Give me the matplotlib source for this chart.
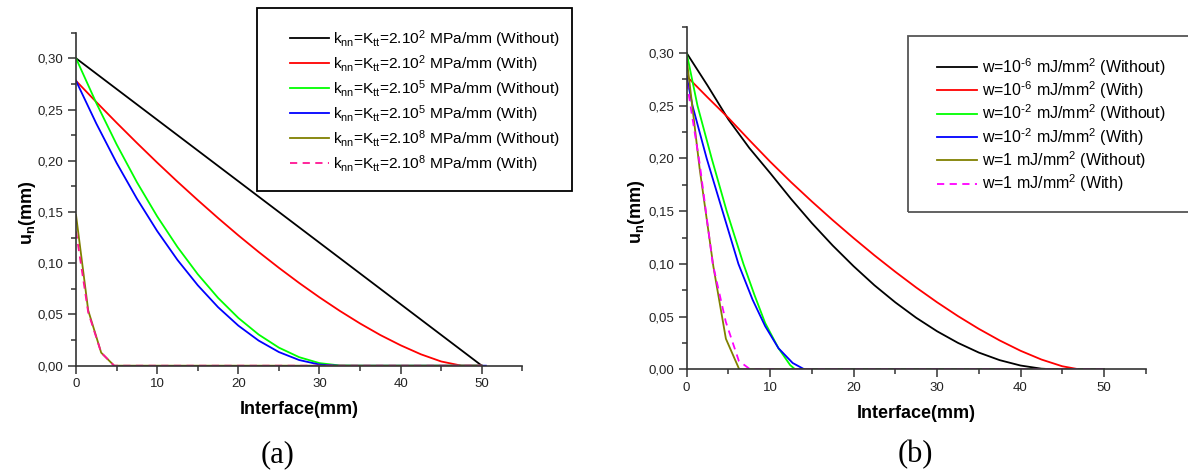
# normal displacement u_n along the interface, (a) stiffness, (b) adhesion energy

import matplotlib
matplotlib.use('Agg')
import matplotlib.pyplot as plt
from matplotlib.patches import Rectangle
from matplotlib.ticker import FuncFormatter, MultipleLocator

# ---- data (a) ----
a_black_x = [0, 50]
a_black_y = [0.300, 0.0]

a_red_x = [0, 2.5, 5, 7.5, 10, 12.5, 15, 17.5, 20, 22.5, 25, 27.5, 30, 32.5, 35, 37.5, 40, 42.5, 45, 47.5, 50]
a_red_y = [0.278, 0.2573, 0.2371, 0.2174, 0.1982, 0.1796, 0.1616, 0.1441, 0.1272, 0.1110, 0.0955,
           0.0807, 0.0667, 0.0535, 0.0412, 0.0299, 0.0199, 0.0111, 0.0041, 0.0, 0.0]

a_green_x = [0, 2.5, 5, 7.5, 10, 12.5, 15, 17.5, 20, 22.5, 25, 27.5, 30, 32.5, 35, 50]
a_green_y = [0.300, 0.2563, 0.2160, 0.1791, 0.1457, 0.1158, 0.0893, 0.0662, 0.0466, 0.0304, 0.0176,
             0.0083, 0.0025, 0.0002, 0.0, 0.0]

a_blue_x = [0, 2.5, 5, 7.5, 10, 12.5, 15, 17.5, 20, 22.5, 25, 27.5, 30, 32.5, 50.5]
a_blue_y = [0.278, 0.2363, 0.1979, 0.1630, 0.1314, 0.1032, 0.0785, 0.0571, 0.0391, 0.0245, 0.0133,
            0.0055, 0.0011, 0.0, 0.0]

a_olive_x = [0, 1.5, 3.1, 4.7, 50]
a_olive_y = [0.147, 0.054, 0.0127, 0.0, 0.0]

a_pink_x = [0, 1.5, 3.1, 4.7, 50]
a_pink_y = [0.131, 0.052, 0.0127, 0.0, 0.0]

a_labels = [
    r'k$_\mathregular{nn}$=K$_\mathregular{tt}$=2.10$^\mathregular{2}$ MPa/mm (Without)',
    r'k$_\mathregular{nn}$=K$_\mathregular{tt}$=2.10$^\mathregular{2}$ MPa/mm (With)',
    r'k$_\mathregular{nn}$=K$_\mathregular{tt}$=2.10$^\mathregular{5}$ MPa/mm (Without)',
    r'k$_\mathregular{nn}$=K$_\mathregular{tt}$=2.10$^\mathregular{5}$ MPa/mm (With)',
    r'k$_\mathregular{nn}$=K$_\mathregular{tt}$=2.10$^\mathregular{8}$ MPa/mm (Without)',
    r'k$_\mathregular{nn}$=K$_\mathregular{tt}$=2.10$^\mathregular{8}$ MPa/mm (With)',
]

# ---- data (b) ----
b_black_x = [0, 2.5, 5, 7.5, 10, 12.5, 15, 17.5, 20, 22.5, 25, 27.5, 30, 32.5, 35, 37.5, 40, 42.5, 44, 50]
b_black_y = [0.300, 0.2692, 0.2370, 0.2100, 0.1862, 0.1617, 0.1387, 0.1174, 0.0978, 0.0797, 0.0635,
             0.0489, 0.0361, 0.0251, 0.0159, 0.0087, 0.0036, 0.0006, 0.0, 0.0]

b_red_x = [0, 2.5, 5, 7.5, 10, 12.5, 15, 17.5, 20, 22.5, 25, 27.5, 30, 32.5, 35, 37.5, 40, 42.5, 45, 47, 50]
b_red_y = [0.278, 0.2580, 0.2385, 0.2175, 0.1970, 0.1776, 0.1592, 0.1415, 0.1245, 0.1081, 0.0925,
           0.0776, 0.0636, 0.0505, 0.0384, 0.0274, 0.0176, 0.0093, 0.0029, 0.0, 0.0]

b_green_x = [0, 1.3, 3.0, 4.8, 6.8, 8.1, 9.4, 11.0, 12.4, 13.0, 50]
b_green_y = [0.300, 0.250, 0.200, 0.150, 0.100, 0.071, 0.044, 0.020, 0.004, 0.0, 0.0]

b_blue_x = [0, 0.7, 2.4, 4.3, 6.2, 7.9, 9.4, 11.0, 12.7, 14.1, 50]
b_blue_y = [0.278, 0.250, 0.200, 0.150, 0.100, 0.066, 0.041, 0.020, 0.006, 0.0, 0.0]

b_olive_x = [0, 1.56, 3.2, 4.7, 6.3, 50]
b_olive_y = [0.295, 0.190, 0.0975, 0.029, 0.0, 0.0]

b_pink_x = [0, 1.56, 3.125, 4.69, 6.25, 7.6, 50]
b_pink_y = [0.273, 0.195, 0.100, 0.045, 0.008, 0.0, 0.0]

b_labels = [
    r'w=10$^\mathregular{\text{-}6}$ mJ/mm$^\mathregular{2}$ (Without)',
    r'w=10$^\mathregular{\text{-}6}$ mJ/mm$^\mathregular{2}$ (With)',
    r'w=10$^\mathregular{\text{-}2}$ mJ/mm$^\mathregular{2}$ (Without)',
    r'w=10$^\mathregular{\text{-}2}$ mJ/mm$^\mathregular{2}$ (With)',
    r'w=1 mJ/mm$^\mathregular{2}$ (Without)',
    r'w=1 mJ/mm$^\mathregular{2}$ (With)',
]


def comma_fmt(v, pos):
    return '{:.2f}'.format(v).replace('.', ',')


def style_axes(ax):
    ax.set_xlim(0, 55)
    ax.set_ylim(0, 0.325)
    ax.spines['top'].set_visible(False)
    ax.spines['right'].set_visible(False)
    for s in ('left', 'bottom'):
        ax.spines[s].set_linewidth(1.2)
        ax.spines[s].set_color('#333333')
    ax.xaxis.set_major_locator(MultipleLocator(10))
    ax.xaxis.set_minor_locator(MultipleLocator(5))
    ax.yaxis.set_major_locator(MultipleLocator(0.05))
    ax.yaxis.set_minor_locator(MultipleLocator(0.025))
    ax.yaxis.set_major_formatter(FuncFormatter(comma_fmt))
    ax.tick_params(which='major', direction='out', length=6, width=1.1, color='#333333',
                   labelsize=9.5, labelcolor='#222222', pad=3)
    ax.tick_params(which='minor', direction='out', length=3.5, width=1.1, color='#333333')
    ax.set_xlabel('Interface(mm)', fontsize=13, fontweight='bold')
    ax.set_ylabel(r'u$_\mathregular{n}$(mm)', fontsize=13, fontweight='bold')


plt.rcParams['font.family'] = ['Liberation Sans', 'DejaVu Sans']
plt.rcParams['mathtext.default'] = 'regular'

fig = plt.figure(figsize=(11.88, 4.71), dpi=100)
ax1 = fig.add_axes((0.064, 0.2236, 0.3757, 0.707))
ax2 = fig.add_axes((0.578, 0.2159, 0.3864, 0.7274))

lw = 1.3
series_a = [
    (a_black_x, a_black_y, 'black', '-'),
    (a_red_x, a_red_y, '#ff0000', '-'),
    (a_green_x, a_green_y, '#00ff00', '-'),
    (a_blue_x, a_blue_y, '#0000ff', '-'),
    (a_olive_x, a_olive_y, '#808000', '-'),
    (a_pink_x, a_pink_y, '#ff1493', '--'),
]
for (x, y, c, ls), label in zip(series_a, a_labels):
    line, = ax1.plot(x, y, color=c, lw=lw, ls=ls, label=label)
    if ls == '--':
        line.set_dashes((4, 3))

series_b = [
    (b_black_x, b_black_y, 'black', '-'),
    (b_red_x, b_red_y, '#ff0000', '-'),
    (b_green_x, b_green_y, '#00ff00', '-'),
    (b_blue_x, b_blue_y, '#0000ff', '-'),
    (b_olive_x, b_olive_y, '#808000', '-'),
    (b_pink_x, b_pink_y, '#ff00ff', '--'),
]
for (x, y, c, ls), label in zip(series_b, b_labels):
    line, = ax2.plot(x, y, color=c, lw=lw, ls=ls, label=label)
    if ls == '--':
        line.set_dashes((4, 3))

for ax in (ax1, ax2):
    style_axes(ax)

ax1.xaxis.set_label_coords(0.5, -0.105)
ax2.xaxis.set_label_coords(0.5, -0.103)
ax1.yaxis.set_label_coords(-0.086, 0.46)
ax2.yaxis.set_label_coords(-0.087, 0.46)

# legends: entries without frame, box drawn separately (it sticks out of the axes)
leg_kw = dict(loc='upper left', bbox_transform=fig.transFigure, borderaxespad=0, frameon=False,
              handlelength=2.5, handletextpad=0.3, borderpad=0)
ax1.legend(bbox_to_anchor=(290 / 1188, 1 - 28 / 471), fontsize=11.15, labelspacing=0.22, **leg_kw)
ax2.legend(bbox_to_anchor=(937 / 1188, 1 - 56 / 471), fontsize=11.5, labelspacing=0.1, **leg_kw)

fig.add_artist(Rectangle((257 / 1188, 1 - 191 / 471), 315 / 1188, 183 / 471, transform=fig.transFigure,
                         fill=False, edgecolor='black', lw=1.3))
fig.add_artist(Rectangle((908 / 1188, 1 - 212 / 471), 290 / 1188, 176 / 471, transform=fig.transFigure,
                         fill=False, edgecolor='#555555', lw=1.3))

fig.text(278 / 1188, 1 - 455 / 471, '(a)', ha='center', va='center', fontsize=22,
         family='Liberation Serif')
fig.text(915 / 1188, 1 - 455 / 471, '(b)', ha='center', va='center', fontsize=22,
         family='Liberation Serif')

plt.savefig('out.png', dpi=100)
plt.close()
